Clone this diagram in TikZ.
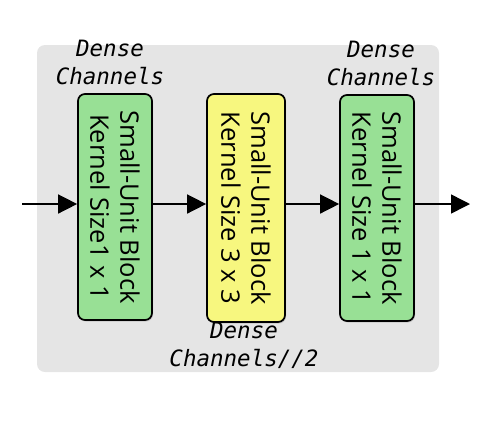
\documentclass[tikz,border=0pt]{standalone}
\usepackage{fontspec}
\setmainfont{Open Sans}
\newfontfamily\monoit{DejaVu Sans Mono}[ItalicFont={DejaVu Sans Mono Oblique}]
\usetikzlibrary{arrows.meta,shadows}
\definecolor{bgray}{HTML}{E5E5E5}
\definecolor{bgreen}{HTML}{98E095}
\definecolor{byellow}{HTML}{F7F77F}
\tikzset{
  blk/.style={draw=black, line width=1.7pt, rounded corners=7pt, minimum width=74pt, minimum height=226pt, inner sep=0pt,
    drop shadow={shadow xshift=1pt, shadow yshift=-1.5pt, opacity=0.3}},
  btxt/.style={rotate=-90, font=\fontsize{25.5}{30}\selectfont, align=center},
  lbl/.style={font=\monoit\itshape\fontsize{22.5}{28}\selectfont, align=center},
  conn/.style={line width=1.5pt, -{Triangle[length=19pt,width=19pt]}}
}
\begin{document}
\begin{tikzpicture}[x=1pt,y=-1pt]
\useasboundingbox (0,0) rectangle (486,424);
\fill[bgray, rounded corners=8pt] (37,45) rectangle (439,372);
\node[blk, fill=bgreen] (b1) at (115,207) {};
\node[blk, fill=byellow, minimum width=78pt, minimum height=228pt] (b2) at (246,208) {};
\node[blk, fill=bgreen] (b3) at (377,208) {};
\node[btxt] at (b1) {Small-Unit Block\\Kernel Size1 x 1};
\node[btxt] at (b2) {Small-Unit Block\\Kernel Size 3 x 3};
\node[btxt] at (b3) {Small-Unit Block\\Kernel Size 1 x 1};
\coordinate (in) at (22,204);
\coordinate (out) at (470,204);
\draw[conn] (in) -- (in -| b1.west);
\draw[conn] (b1.east |- in) -- (b2.west |- in);
\draw[conn] (b2.east |- in) -- (b3.west |- in);
\draw[conn] (b3.east |- in) -- (out);
\node[lbl] (l1) at (110,62) {Dense\\Channels};
\node[lbl] (l3) at (381,63) {Dense\\Channels};
\node[lbl] (l2) at (244,345) {Dense\\Channels//2};
\end{tikzpicture}
\end{document}
